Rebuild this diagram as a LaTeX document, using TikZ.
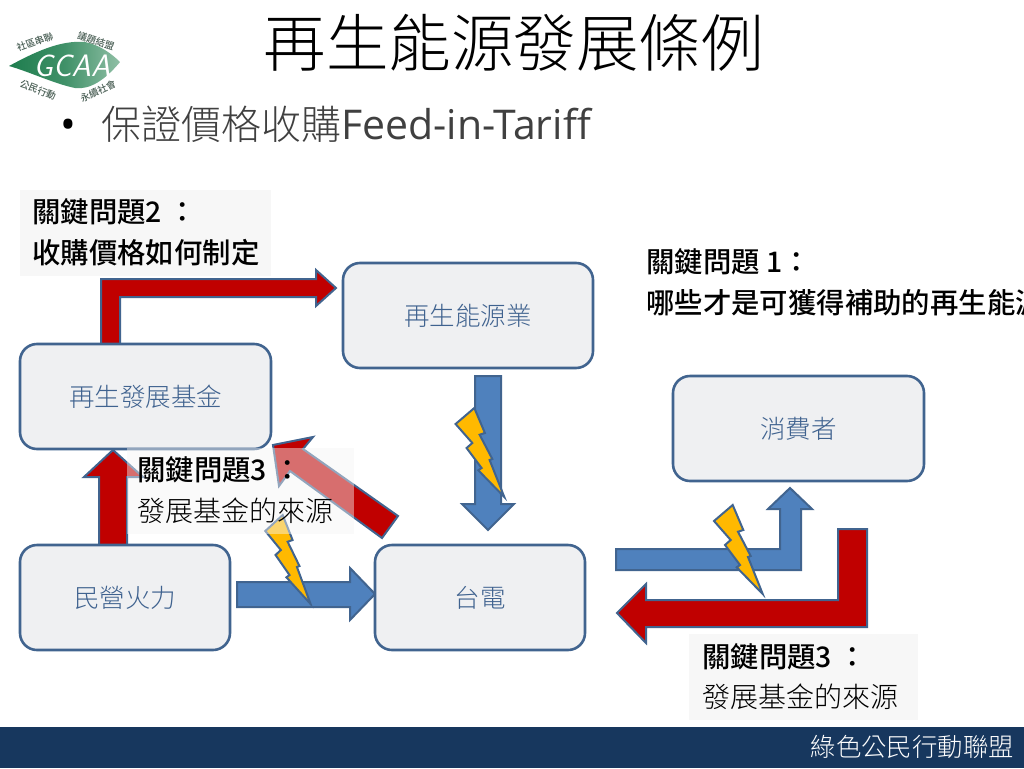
\documentclass[tikz,border=0pt]{standalone}
\usepackage{fontspec}
\setmainfont{Open Sans}
\newfontfamily\cjk{Noto Sans CJK TC}
\newfontfamily\cjkl{Noto Sans CJK TC Light}
\newfontfamily\cjkm{Noto Sans CJK TC Medium}
\usetikzlibrary{calc}
\definecolor{nodeline}{HTML}{41648F}
\definecolor{nodefill}{HTML}{EFF0F2}
\definecolor{nodetext}{HTML}{3F628F}
\definecolor{arrowred}{HTML}{C00000}
\definecolor{arrowblue}{HTML}{4F81BD}
\definecolor{bolt}{HTML}{FFB900}
\definecolor{navy}{HTML}{17375E}
\definecolor{leafd}{HTML}{1E7D4E}
\definecolor{leafl}{HTML}{8FBFA5}
\definecolor{logotext}{HTML}{4A5F55}
\tikzset{
  x=1pt,y=-1pt,
  box/.style={draw=nodeline,line width=2.6pt,fill=nodefill,rounded corners=17pt,inner sep=0pt,
     text=nodetext,font=\cjkl\fontsize{25.5}{30}\selectfont},
  redarrow/.style={draw=nodeline,line width=2pt,fill=arrowred,line join=miter},
  bluearrow/.style={draw=nodeline,line width=2pt,fill=arrowblue,line join=miter},
  boltshape/.style={draw=nodeline,line width=2pt,fill=bolt,line join=miter},
  keytext/.style={anchor=west,inner sep=0pt,font=\cjkm\fontsize{28.4}{32}\selectfont,text=black},
  plaintext/.style={anchor=west,inner sep=0pt,font=\cjkl\fontsize{28}{32}\selectfont,text=black},
  logolabel/.style={inner sep=0pt,text=logotext,font=\cjkm\fontsize{9.5}{10}\selectfont},
}
\newcommand{\boltat}[3][1]{%
  \draw[boltshape,shift={(#2,#3)},xscale=#1] (0,0) -- (-18.7,16) -- (-2,35) -- (-7.7,40) -- (7.3,60)
    -- (4,62.3) -- (30,89) -- (15.3,52) -- (18,51) -- (5.3,26.7) -- (10.6,25) -- cycle;}
\begin{document}
\begin{tikzpicture}
\path[use as bounding box] (0,0) rectangle (1024,768);
\clip (0,0) rectangle (1024,768);
\fill[white] (0,0) rectangle (1024,768);

% footer
\fill[navy] (0,727) rectangle (1024,768);
\node[anchor=east,inner sep=0pt,text=white,font=\cjkl\fontsize{25.4}{28}\selectfont] (footer) at (1014,747) {綠色公民行動聯盟};

% title
\node[inner sep=0pt,font=\cjkl\fontsize{62.5}{70}\selectfont,text=black] (title) at (513.5,43) {再生能源發展條例};
\node[inner sep=0pt,anchor=center,font=\fontsize{42}{42}\selectfont,text=black] (bullet) at (68,129) {•};
\node[anchor=west,inner sep=0pt,text=black!75] (sub) at (101,124)
  {{\cjkl\fontsize{40}{46}\selectfont 保證價格收購}{\fontsize{41}{46}\selectfont Feed-in-Tariff}};

% logo
\shade[left color=leafd,right color=leafl,middle color=leafd!70!leafl]
  (9,66) .. controls (35,52) and (60,40) .. (85,42) .. controls (100,45) and (112,54) .. (120,62)
  .. controls (105,80) and (90,90) .. (75,88) .. controls (55,84) and (30,72) .. (9,66) -- cycle;
\node[inner sep=0pt,text=white,font=\sffamily\itshape\fontsize{31}{31}\selectfont] (gcaa) at (72,66) {GCAA};
\node[logolabel,rotate=20] (l2) at (35,42) {社區串聯};
\node[logolabel,rotate=-18] (l3) at (96,41) {議題結盟};
\node[logolabel,rotate=-22] (l4) at (38,90) {公民行動};
\node[logolabel,rotate=25] (l5) at (98,91) {永續社會};

% block arrows
\draw[redarrow] (101,344) -- (101,279) -- (316,279) -- (316,270) -- (336,288) -- (316,306) -- (316,297) -- (120,297) -- (120,344) -- cycle;
\draw[redarrow] (99,545) -- (99,477) -- (84,477) -- (113,450) -- (143,477) -- (127,477) -- (127,545) -- cycle;
\draw[redarrow] (398,516) -- (303,449) -- (313,437) -- (273,445) -- (279,486) -- (290,471) -- (382,538) -- cycle;
\draw[bluearrow] (475,376) -- (501,376) -- (501,504) -- (514,504) -- (488,530) -- (462,504) -- (475,504) -- cycle;
\draw[bluearrow] (237,582) -- (350,582) -- (350,568) -- (375,594) -- (350,620) -- (350,607) -- (237,607) -- cycle;
\draw[bluearrow] (616,549) -- (780,549) -- (780,509) -- (768,509) -- (790,488) -- (812,509) -- (801,509) -- (801,570) -- (616,570) -- cycle;
\draw[redarrow] (838,529) -- (867,529) -- (867,627) -- (646,627) -- (646,643) -- (617,613) -- (646,584) -- (646,600) -- (838,600) -- cycle;

% bolts
\boltat[0.93]{282.7}{515}
\boltat{474.3}{408}
\boltat{732.7}{505}

% nodes
\node[box,minimum width=250pt,minimum height=105pt] (energy) at (468,315.5) {再生能源業};
\node[box,minimum width=251pt,minimum height=105pt] (fund) at (145.5,396.5) {再生發展基金};
\node[box,minimum width=210pt,minimum height=105pt] (fossil) at (125,597.5) {民營火力};
\node[box,minimum width=210pt,minimum height=105pt] (taipower) at (480,597.5) {台電};
\node[box,minimum width=251pt,minimum height=105pt] (consumer) at (798.5,428.5) {消費者};

% panels behind the labels
\fill[black!3] (20,190) rectangle (271,276);
\fill[black!3] (689,634) rectangle (918,720);
\fill[white!96!black,fill opacity=.45] (127,448) rectangle (354,534);

% labels
\node[keytext] (k2a) at (32,212) {關鍵問題2 ：};
\node[keytext] (k2b) at (32,253) {收購價格如何制定};
\node[keytext] (k1a) at (646,262) {關鍵問題 1：};
\node[keytext] (k1b) at (646,303) {哪些才是可獲得補助的再生能源};
\node[keytext] (k3a) at (137,470) {關鍵問題3 ：};
\node[plaintext] (k3b) at (137,511) {發展基金的來源};
\node[keytext] (k4a) at (702,657) {關鍵問題3 ：};
\node[plaintext] (k4b) at (702,697) {發展基金的來源};
\end{tikzpicture}
\end{document}
